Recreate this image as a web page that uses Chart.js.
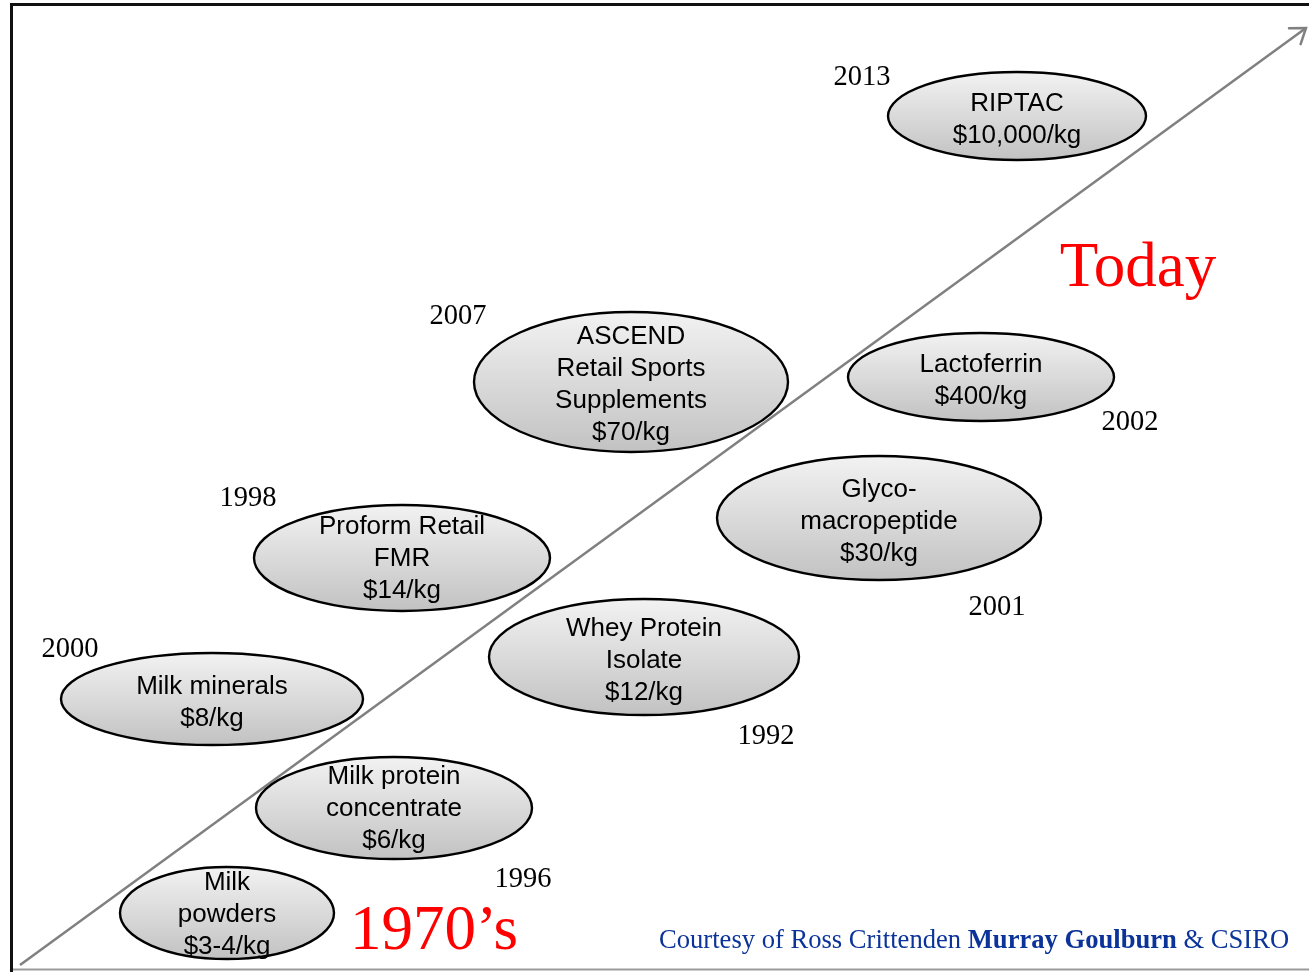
<!DOCTYPE html>
<html>
<head>
<meta charset="utf-8">
<script src="https://cdn.jsdelivr.net/npm/chart.js@4.4.1/dist/chart.umd.min.js"></script>
<style>
html,body{margin:0;padding:0;background:#fff}
#wrap{width:1309px;height:972px}
</style>
</head>
<body>
<div id="wrap"><canvas id="chart" width="1309" height="972"></canvas></div>
<script>
// products along the value arrow (centre + half sizes in chart units)
const products = [
  ['RIPTAC','$10,000/kg'],
  ['ASCEND','Retail Sports','Supplements','$70/kg'],
  ['Lactoferrin','$400/kg'],
  ['Glyco-','macropeptide','$30/kg'],
  ['Proform Retail','FMR','$14/kg'],
  ['Whey Protein','Isolate','$12/kg'],
  ['Milk minerals','$8/kg'],
  ['Milk protein','concentrate','$6/kg'],
  ['Milk','powders','$3-4/kg']
];
const cx = [1017,631,981,879,402,644,212,394,227];
const cy = [116,382,377,518,558,657,699,808,913];
const rx = [129,157,133,162,148,155,151,138,107];
const ry = [44,70,44,62,53,58,46,51,46];
const firstLine = [102,335,363,488,525,627,685,775,881];

const years = ['2013','2007','2002','2001','1998','1992','2000','1996'];
const yearX = [862,458,1130,997,248,766,70,523];
const yearY = [76,315,421,606,497,735,648,878];

const arrowX = [20,1306];
const arrowY = [965,28];

const $ = id => document.getElementById(id);
const SANS = '"Liberation Sans", Arial, sans-serif';
const SERIF = '"Liberation Serif", "Times New Roman", serif';

const frame = {
  id:'frame',
  beforeDatasetsDraw(chart){
    const {ctx} = chart;
    ctx.save();
    ctx.strokeStyle = '#111'; ctx.lineWidth = 3;
    ctx.beginPath(); ctx.moveTo(11,4.5); ctx.lineTo(1309,4.5); ctx.stroke();
    ctx.beginPath(); ctx.moveTo(11.5,3); ctx.lineTo(11.5,972); ctx.stroke();
    ctx.strokeStyle = '#9a9a9a'; ctx.lineWidth = 2;
    ctx.beginPath(); ctx.moveTo(13,969.5); ctx.lineTo(1309,969.5); ctx.stroke();
    ctx.restore();
  }
};

const overlay = {
  id:'overlay',
  afterDatasetsDraw(chart){
    const {ctx, scales:{x,y}} = chart;
    ctx.save();
    // arrow head
    const x0 = x.getPixelForValue(arrowX[0]), y0 = y.getPixelForValue(arrowY[0]);
    const x1 = x.getPixelForValue(arrowX[1]), y1 = y.getPixelForValue(arrowY[1]);
    const a = Math.atan2(y1-y0, x1-x0), len = 17, spread = 0.62;
    ctx.strokeStyle = '#808080'; ctx.lineWidth = 2.5; ctx.lineCap = 'round';
    ctx.beginPath();
    ctx.moveTo(x1 - len*Math.cos(a-spread), y1 - len*Math.sin(a-spread));
    ctx.lineTo(x1, y1);
    ctx.lineTo(x1 - len*Math.cos(a+spread), y1 - len*Math.sin(a+spread));
    ctx.stroke();

    // ellipses
    products.forEach((lines,i)=>{
      const px = x.getPixelForValue(cx[i]), py = y.getPixelForValue(cy[i]);
      const w = Math.abs(x.getPixelForValue(cx[i]+rx[i]) - px);
      const h = Math.abs(y.getPixelForValue(cy[i]+ry[i]) - py);
      const g = ctx.createLinearGradient(0, py-h, 0, py+h);
      g.addColorStop(0,'#f2f2f2'); g.addColorStop(1,'#c2c2c2');
      ctx.beginPath(); ctx.ellipse(px,py,w,h,0,0,Math.PI*2);
      ctx.fillStyle = g; ctx.fill();
      ctx.lineWidth = 2.4; ctx.strokeStyle = '#000'; ctx.stroke();
    });
    ctx.fillStyle = '#000'; ctx.textAlign = 'center'; ctx.textBaseline = 'alphabetic';
    ctx.font = '26px ' + SANS;
    products.forEach((lines,i)=>{
      const px = x.getPixelForValue(cx[i]);
      lines.forEach((t,k)=>ctx.fillText(t, px, y.getPixelForValue(firstLine[i] + 32*k) + 9));
    });

    // years
    ctx.font = '28.5px ' + SERIF;
    years.forEach((t,i)=>ctx.fillText(t, x.getPixelForValue(yearX[i]), y.getPixelForValue(yearY[i]) + 9));

    // big red labels
    ctx.fillStyle = '#ff0000'; ctx.font = '63px ' + SERIF;
    ctx.fillText('Today', 1138, 286);
    ctx.fillText('1970\u2019s', 434, 949);

    // credit line
    ctx.textAlign = 'left'; ctx.fillStyle = '#0b3399';
    const parts = [['Courtesy of Ross Crittenden ', ''], ['Murray Goulburn', 'bold '], [' & CSIRO', '']];
    let cxp = 659;
    parts.forEach(([t,w])=>{
      ctx.font = w + '26.6px ' + SERIF;
      ctx.fillText(t, cxp, 948);
      cxp += ctx.measureText(t).width;
    });
    ctx.restore();
  }
};

new Chart($('chart'), {
  type:'scatter',
  data:{
    datasets:[{
      data: arrowX.map((v,i)=>({x:v, y:arrowY[i]})),
      showLine:true,
      borderColor:'#808080',
      borderWidth:2.5,
      pointRadius:0
    }]
  },
  options:{
    responsive:false,
    animation:false,
    devicePixelRatio:1,
    layout:{padding:0},
    plugins:{legend:{display:false}, tooltip:{enabled:false}},
    scales:{
      x:{type:'linear', min:0, max:1309, display:false},
      y:{type:'linear', min:0, max:972, reverse:true, display:false}
    }
  },
  plugins:[frame, overlay]
});
</script>
</body>
</html>
